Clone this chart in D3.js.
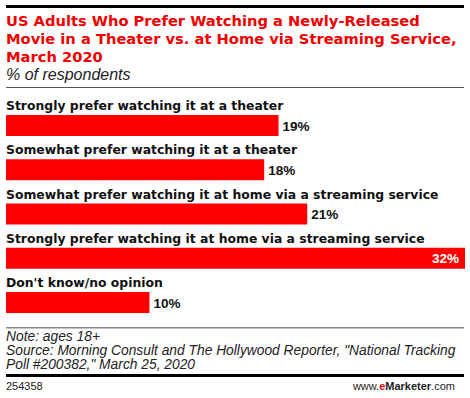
<!DOCTYPE html>
<html>
<head>
<meta charset="utf-8">
<script src="https://cdn.jsdelivr.net/npm/d3@7"></script>
<style>
  body { margin: 0; background: #fff; }
  svg { display: block; }
  text { font-family: "Liberation Sans", Arial, sans-serif; }
  .wide { font-family: "DejaVu Sans", Verdana, sans-serif; }
</style>
</head>
<body>
<svg id="chart" width="470" height="398"></svg>
<script>
const titleLines = [
  "US Adults Who Prefer Watching a Newly-Released",
  "Movie in a Theater vs. at Home via Streaming Service,",
  "March 2020"
];
const subtitle = "% of respondents";
const categories = [
  "Strongly prefer watching it at a theater",
  "Somewhat prefer watching it at a theater",
  "Somewhat prefer watching it at home via a streaming service",
  "Strongly prefer watching it at home via a streaming service",
  "Don't know/no opinion"
];
const values = [19, 18, 21, 32, 10];
const noteLines = [
  "Note: ages 18+",
  "Source: Morning Consult and The Hollywood Reporter, \"National Tracking",
  "Poll #200382,\" March 25, 2020"
];
const chartId = "254358";

const svg = d3.select("#chart");
const left = 6, right = 465;

// shrink a group of texts so its widest line fits the given width
function fitWidth(sel, base, target) {
  sel.attr("font-size", base);
  const w = d3.max(sel.nodes(), n => n.getComputedTextLength());
  if (w > 0) sel.attr("font-size", base * target / w);
}

// top rule
svg.append("rect").attr("x", 6).attr("y", 5).attr("width", 458).attr("height", 3).attr("fill", "#000");

// title
const title = svg.append("g").selectAll("text")
  .data(titleLines)
  .join("text")
    .attr("class", "wide")
    .attr("x", 6)
    .attr("y", (d, i) => 26 + i * 18)
    .attr("fill", "#f00000")
    .attr("font-weight", "bold")
    .text(d => d);
fitWidth(title, 15, 451);

svg.append("text")
  .attr("x", 6).attr("y", 80)
  .attr("font-size", 16)
  .attr("font-style", "italic")
  .attr("fill", "#222")
  .text(subtitle);

svg.append("rect").attr("x", 6).attr("y", 87).attr("width", 458).attr("height", 1).attr("fill", "#555");

// bars
const x = d3.scaleLinear().domain([0, 32]).range([left, right]);
const y = d3.scaleBand().domain(categories).range([93, 93 + 5 * 44.25]).paddingInner(0).paddingOuter(0);
const barTop = 22, barH = 21;

const rows = svg.append("g").selectAll("g")
  .data(categories.map((c, i) => ({ c, v: values[i] })))
  .join("g")
    .attr("transform", d => `translate(0,${y(d.c)})`);

const labels = rows.append("text")
  .attr("class", "wide")
  .attr("x", 6).attr("y", 17)
  .attr("font-weight", "bold")
  .attr("fill", "#111")
  .text(d => d.c);
fitWidth(labels, 13, 433);

rows.append("rect")
  .attr("x", x(0))
  .attr("y", barTop)
  .attr("width", d => x(d.v) - x(0))
  .attr("height", barH)
  .attr("fill", "#ff0000");

rows.append("text")
  .attr("x", d => d.v === d3.max(values) ? x(d.v) - 6 : x(d.v) + 4)
  .attr("y", barTop + barH / 2 + 5)
  .attr("text-anchor", d => d.v === d3.max(values) ? "end" : "start")
  .attr("font-size", 13.5)
  .attr("font-weight", "bold")
  .attr("fill", d => d.v === d3.max(values) ? "#fff" : "#111")
  .text(d => d.v + "%");

// bottom rules and notes
svg.append("rect").attr("x", 6).attr("y", 327).attr("width", 458).attr("height", 1.5).attr("fill", "#888");

svg.append("g").selectAll("text")
  .data(noteLines)
  .join("text")
    .attr("x", 6)
    .attr("y", (d, i) => 341 + i * 14)
    .attr("font-size", 13.8)
    .attr("font-style", "italic")
    .attr("fill", "#222")
    .text(d => d);

svg.append("rect").attr("x", 6).attr("y", 374).attr("width", 458).attr("height", 3).attr("fill", "#000");

svg.append("text")
  .attr("x", 6).attr("y", 390)
  .attr("font-size", 11)
  .attr("fill", "#222")
  .text(chartId);

const site = svg.append("text")
  .attr("x", 455).attr("y", 390)
  .attr("text-anchor", "end")
  .attr("font-size", 11)
  .attr("fill", "#222");
site.append("tspan").text("www.");
site.append("tspan").attr("fill", "#e8000b").attr("font-weight", "bold").text("e");
site.append("tspan").attr("font-weight", "bold").text("Marketer");
site.append("tspan").text(".com");
</script>
</body>
</html>
